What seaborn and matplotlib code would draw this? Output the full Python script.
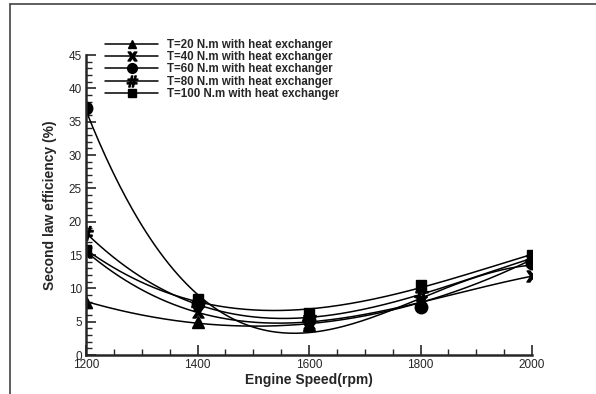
import numpy as np
import pandas as pd
import matplotlib
matplotlib.use("Agg")
import matplotlib.pyplot as plt
import seaborn as sns
from matplotlib.lines import Line2D
from matplotlib.ticker import MultipleLocator

speed = [1200, 1400, 1600, 1800, 2000]
t20 = [8.0, 4.9, 4.5, 8.0, 14.3]
t40 = [15.5, 6.5, 4.8, 8.0, 11.8]
t60 = [37.0, 7.8, 5.3, 7.2, 13.8]
t80 = [18.3, 7.6, 5.6, 9.1, 14.5]
t100 = [15.7, 8.4, 6.3, 10.5, 15.0]
labels = ["T=20 N.m with heat exchanger", "T=40 N.m with heat exchanger",
          "T=60 N.m with heat exchanger", "T=80 N.m with heat exchanger",
          "T=100 N.m with heat exchanger"]
series = [t20, t40, t60, t80, t100]
markers = ["^", "$\\mathbf{X}$", "o", "$\\#$", "s"]
msizes = [8, 8, 9, 10, 7.5]
leg_sizes = [6, 6.5, 7, 8, 6]

sns.set_style("ticks")
plt.rcParams["font.family"] = ["Liberation Sans", "DejaVu Sans"]

fig = plt.figure(figsize=(5.96, 3.94), dpi=100)
ax = fig.add_axes([86/596, 1-355/394, (532-86)/596, 300/394])

grid = np.linspace(1200, 2000, 200)
for vals, m, ms in zip(series, markers, msizes):
    coef = np.polyfit(speed, vals, 3)
    sns.lineplot(x=grid, y=np.polyval(coef, grid), color="black", lw=1.1, ax=ax)
    ax.plot(speed, vals, linestyle="none", marker=m, color="black", markersize=ms)

ax.set_xlim(1200, 2000)
ax.set_ylim(0, 45)
ax.xaxis.set_major_locator(MultipleLocator(200))
ax.xaxis.set_minor_locator(MultipleLocator(50))
ax.yaxis.set_major_locator(MultipleLocator(5))
ax.yaxis.set_minor_locator(MultipleLocator(1))
ax.tick_params(which="major", direction="in", length=7, width=1.2, labelsize=8.5, pad=3)
ax.tick_params(which="minor", direction="in", length=4, width=1.0)
for s in ["top", "right"]:
    ax.spines[s].set_visible(False)
for s in ["left", "bottom"]:
    ax.spines[s].set_linewidth(1.8)
ax.set_xlabel("Engine Speed(rpm)", fontsize=10, fontweight="bold", labelpad=1)
ax.set_ylabel("Second law efficiency (%)", fontsize=10, fontweight="bold", labelpad=8)

handles = [Line2D([], [], color="black", lw=1.1, marker=m, markersize=ms)
           for m, ms in zip(markers, leg_sizes)]
fig.legend(handles, labels, loc="upper left", bbox_to_anchor=(105/596, 1-39/394),
           frameon=False, prop={"weight": "bold", "size": 8.3},
           handlelength=4.6, handletextpad=0.8, labelspacing=0.02, borderpad=0,
           borderaxespad=0)

fig.add_artist(Line2D([10/596, 10/596], [0, 1-4/394], transform=fig.transFigure,
                      color="#444444", lw=1.2))
fig.add_artist(Line2D([10/596, 1], [1-4/394, 1-4/394], transform=fig.transFigure,
                      color="#444444", lw=1.2))

fig.savefig("out.png", dpi=100)
